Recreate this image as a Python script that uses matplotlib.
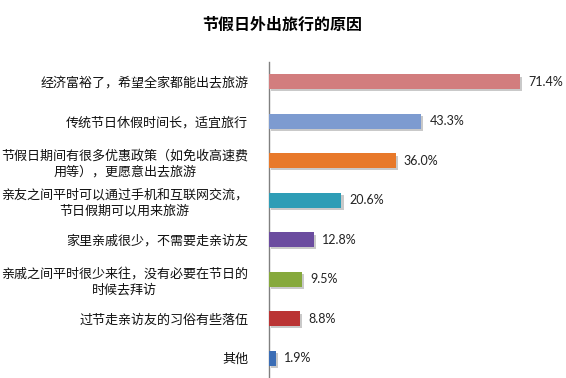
import matplotlib.pyplot as plt
import matplotlib.patheffects as pe

plt.rcParams['font.family'] = ['Noto Sans CJK SC', 'DejaVu Sans']

# data
title = "节假日外出旅行的原因"
reasons = [
    "经济富裕了，希望全家都能出去旅游",
    "传统节日休假时间长，适宜旅行",
    "节假日期间有很多优惠政策（如免收高速费\n用等），更愿意出去旅游",
    "亲友之间平时可以通过手机和互联网交流，\n节日假期可以用来旅游",
    "家里亲戚很少，不需要走亲访友",
    "亲戚之间平时很少来往，没有必要在节日的\n时候去拜访",
    "过节走亲访友的习俗有些落伍",
    "其他",
]
values = [71.4, 43.3, 36.0, 20.6, 12.8, 9.5, 8.8, 1.9]

bar_colors = ["#D27D7E", "#7D9BD0", "#E8792A", "#2E9DB6",
              "#6B4C9F", "#86A93C", "#BA3434", "#3B6DB5"]

fig = plt.figure(figsize=(5.66, 3.78), dpi=100)
ax = fig.add_axes([269 / 566, 0.0, 276 / 566, 1 - 62 / 378])

ypos = list(range(len(values)))
bars = ax.barh(ypos, values, height=0.37, color=bar_colors, zorder=3)
for b in bars:
    b.set_path_effects([pe.SimplePatchShadow(offset=(1.5, -1.5), shadow_rgbFace="0.4", alpha=0.35),
                        pe.Normal()])

for y, v in zip(ypos, values):
    ax.text(v + 2.3, y, f"{v:.1f}%", va="center", ha="left", fontsize=9,
            family=["Lato", "DejaVu Sans"], color="#222222")

ax.set_yticks(ypos)
ax.set_yticklabels(reasons, fontsize=9.4, multialignment="center",
                   color="#111111", linespacing=1.3)
ax.tick_params(axis="y", length=0, pad=15)
ax.set_xticks([])
ax.set_xlim(0, 78.5)
ax.set_ylim(len(values) - 0.5, -0.5)

for s in ["top", "right", "bottom"]:
    ax.spines[s].set_visible(False)
ax.spines["left"].set_color("#808080")
ax.spines["left"].set_linewidth(1.0)

fig.text(282 / 566, 1 - 25 / 378, title, ha="center", va="center",
         fontsize=11.5, fontweight="bold")

fig.savefig("out.png", dpi=100)
